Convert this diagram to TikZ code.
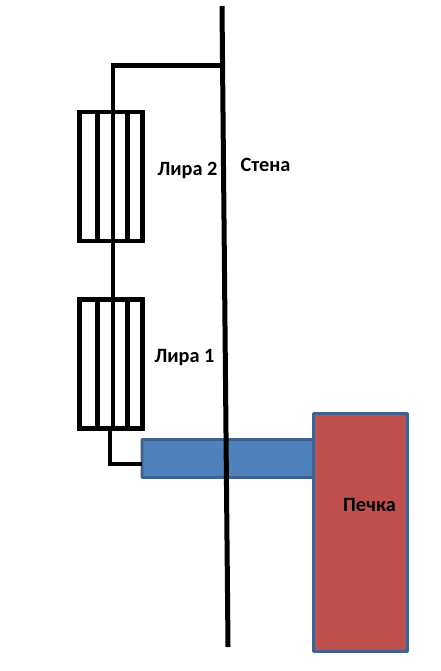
\documentclass[tikz,border=0pt]{standalone}
\usepackage{fontspec}
\setmainfont{Carlito}
\tikzset{
  pipeline/.style={line width=4.8pt,black,line cap=square,line join=miter},
  radiator/.style={draw=black,line width=4.8pt,fill=none,minimum width=63pt,inner sep=0pt,outer sep=0pt},
  duct/.style={draw=duct border,fill=duct fill,line width=2.6pt,inner sep=0pt,outer sep=0pt,rounded corners=0.5pt},
  label/.style={font=\bfseries\fontsize{20.3}{24}\selectfont,inner sep=0pt,text=black}
}
\definecolor{duct border}{HTML}{3F618F}
\definecolor{duct fill}{HTML}{4F81BD}
\definecolor{oven fill}{HTML}{C0504D}
\begin{document}
\begin{tikzpicture}[x=1pt,y=-1pt]
\useasboundingbox (0,0) rectangle (441,671);
\fill[white] (0,0) rectangle (441,671);
% duct and oven
\node[duct,minimum width=172pt,minimum height=38pt] (duct) at (228,458.5) {};
\node[duct,fill=oven fill,minimum width=94pt,minimum height=238pt] (oven) at (360.5,532.5) {};
% radiators
\node[radiator,minimum height=129pt] (lira2) at (111,176.5) {};
\node[radiator,minimum height=128.5pt] (lira1) at (111,364) {};
% wall
\coordinate (walltop) at (222,6);
\coordinate (wallbot) at (228,647);
\coordinate (wallT) at (222.5,65.5);
\coordinate (corner) at (113,65.5);
\draw[line width=5pt,black] (walltop) -- (wallbot);
% top pipe and the riser
\draw[pipeline,line cap=butt] (wallT) -- (corner) -- (lira2.north -| corner);
\draw[pipeline,line cap=butt] (lira2.north -| corner) -- (lira2.south -| corner) -- (lira1.north -| corner) -- (lira1.south -| corner);
% radiator sections
\foreach \r in {lira2,lira1}{
  \draw[pipeline,line cap=butt] ([xshift=-13.7pt]\r.north) -- ([xshift=-13.7pt]\r.south);
  \draw[pipeline,line cap=butt] ([xshift=16.7pt]\r.north) -- ([xshift=16.7pt]\r.south);
}
% lower pipe
\coordinate (elbow) at (110,464);
\draw[pipeline,line cap=butt] (lira1.south -| elbow) -- (elbow) -- (elbow -| duct.west);
% labels
\node[label] (t2) at (187.5,170) {Лира 2};
\node[label] (t1) at (184.5,357.5) {Лира 1};
\node[label] (t3) at (265.5,165) {Стена};
\node[label] (t4) at (369.5,505) {Печка};
\end{tikzpicture}
\end{document}
